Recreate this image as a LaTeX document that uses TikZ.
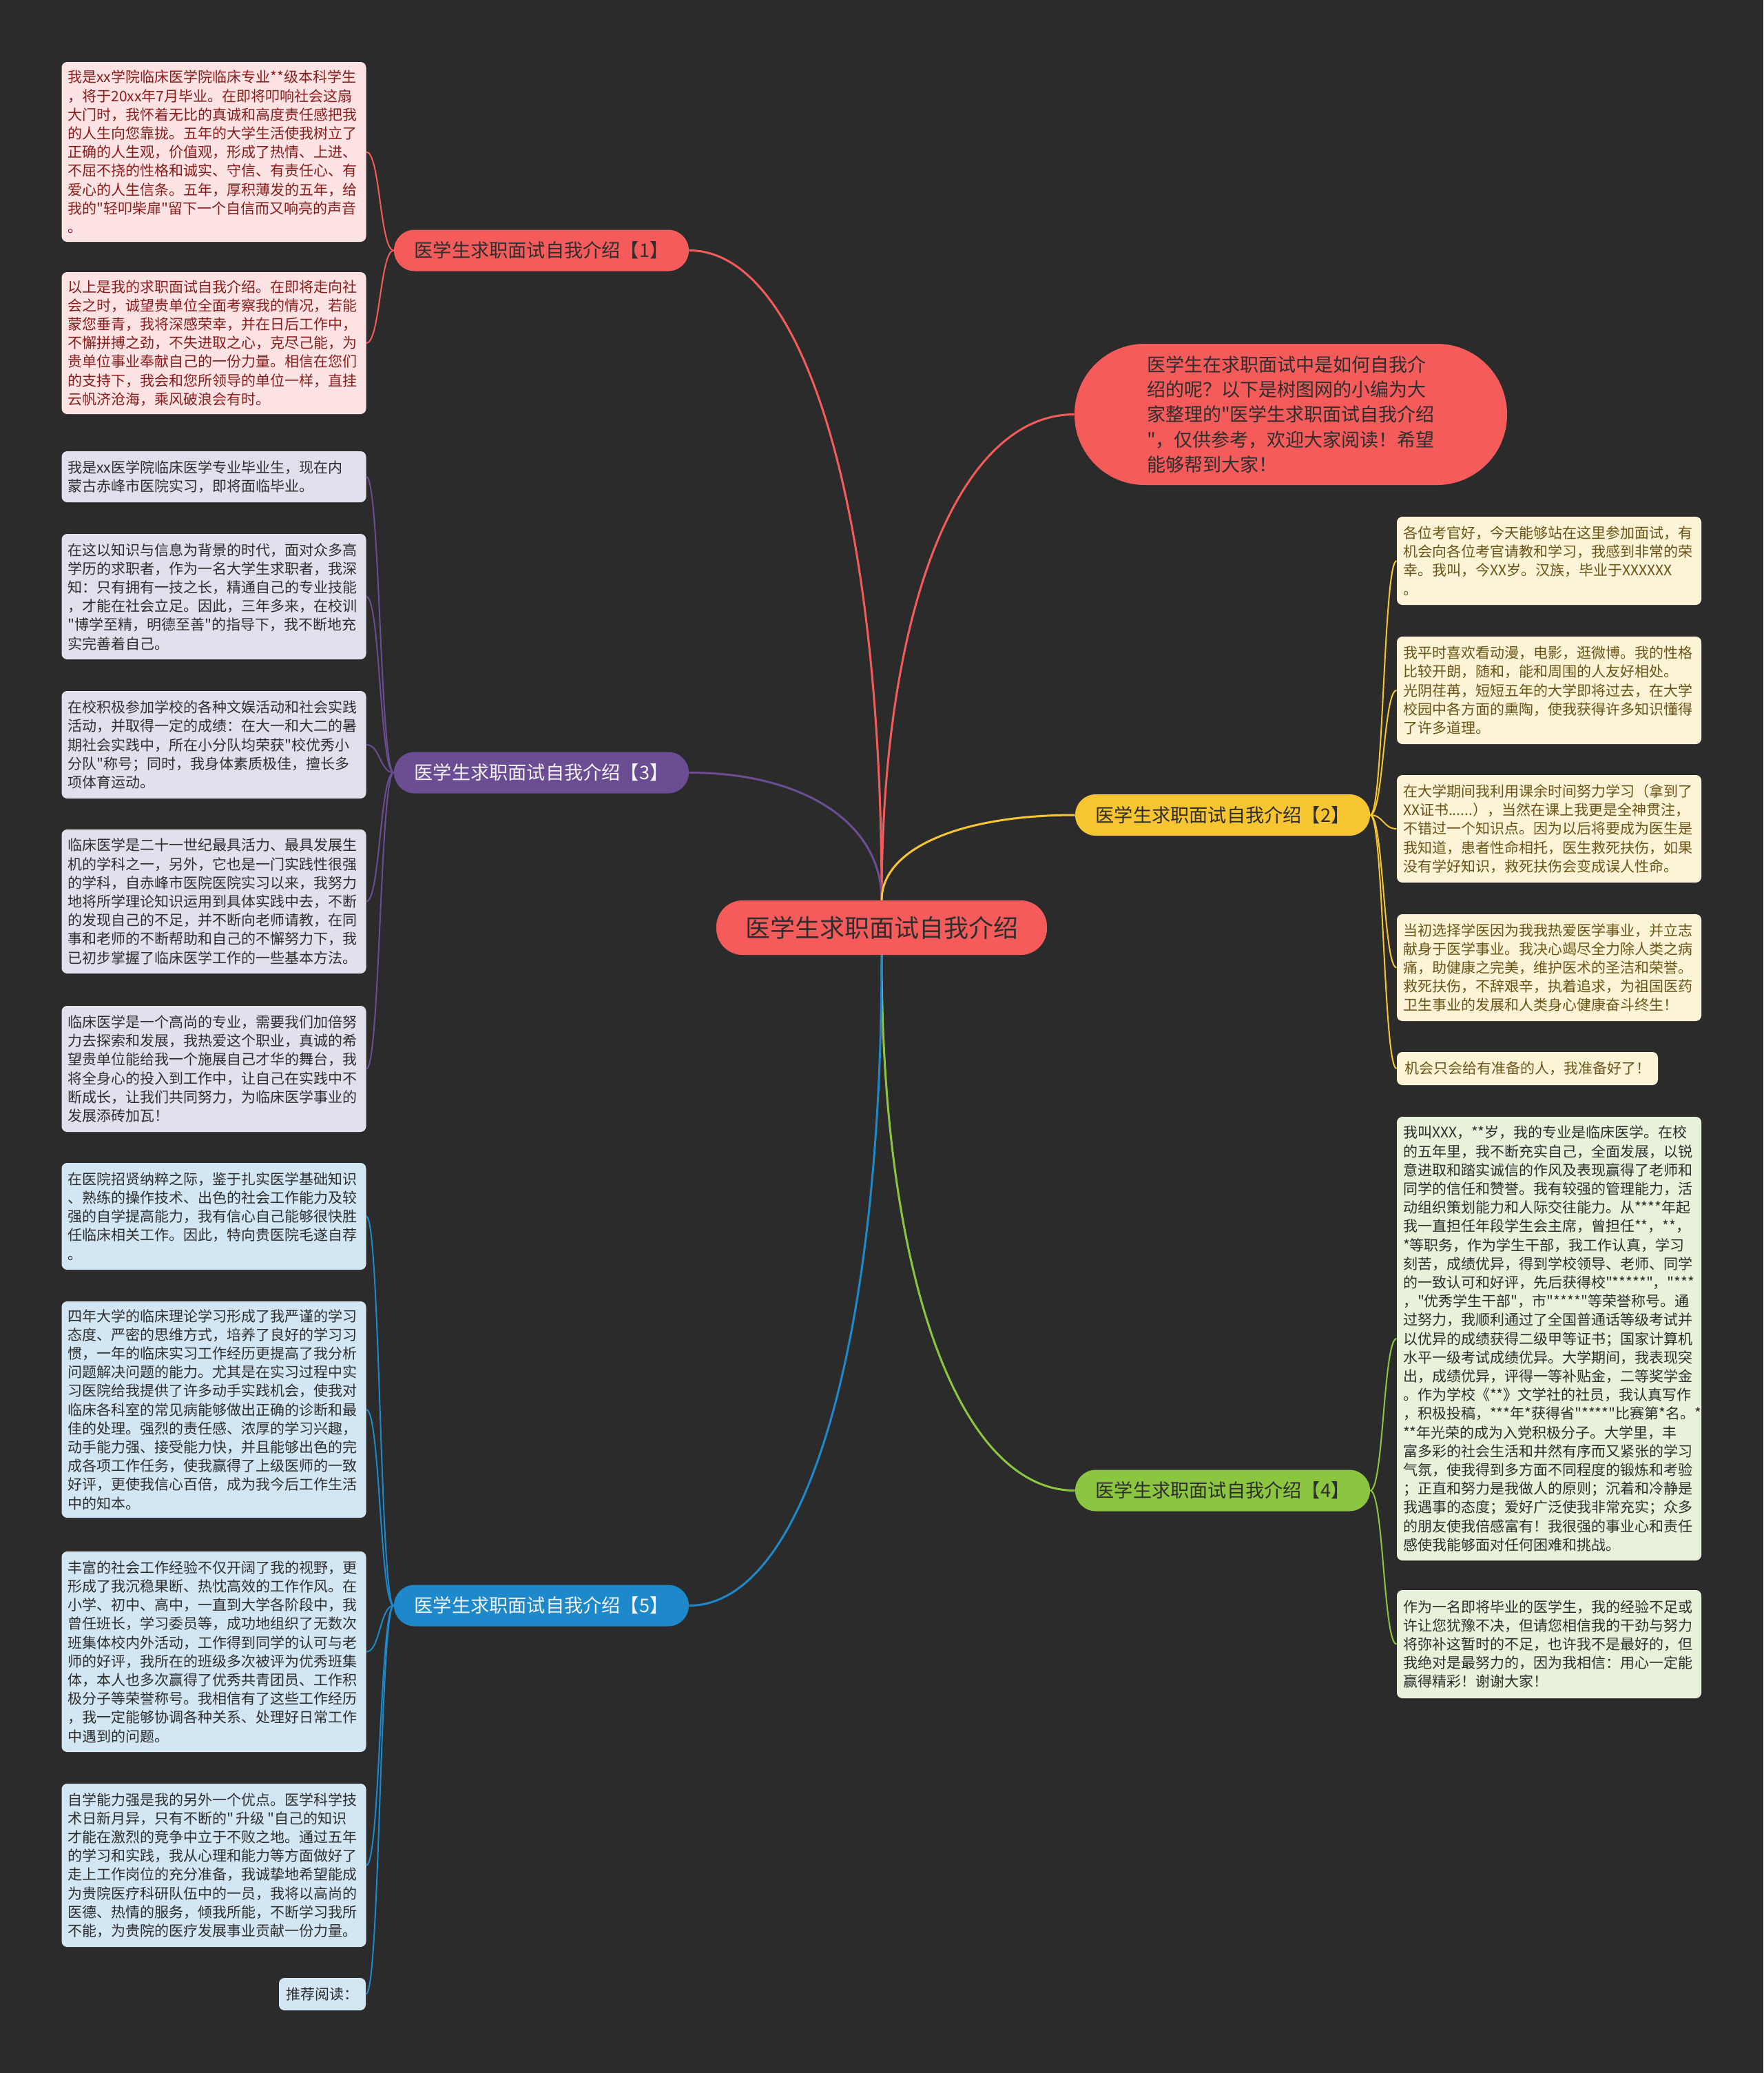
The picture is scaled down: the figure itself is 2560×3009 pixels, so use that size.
\documentclass[tikz,border=0pt]{standalone}
\usepackage{fontspec}
\newfontfamily\cjk{Noto Sans CJK SC}
\usetikzlibrary{calc}
\definecolor{bgc}{HTML}{2B2B2B}
\definecolor{cred}{HTML}{F55B5B}
\definecolor{cpur}{HTML}{6B4D93}
\definecolor{cblu}{HTML}{1D88CA}
\definecolor{cyel}{HTML}{F7C531}
\definecolor{cgrn}{HTML}{8CC540}
\definecolor{lred}{HTML}{FDE3E3}
\definecolor{lpur}{HTML}{E3E0ED}
\definecolor{lblu}{HTML}{D3E6F3}
\definecolor{lyel}{HTML}{FDF4D7}
\definecolor{lgrn}{HTML}{E8F2DA}
\definecolor{tred}{HTML}{8A1C1C}
\definecolor{tyel}{HTML}{6B5417}
\definecolor{tdark}{HTML}{2E2E2E}
\definecolor{tlight}{HTML}{F2F2F2}
\newcommand\leaffnt{\cjk\fontsize{10.5}{13.6}\selectfont}
\newcommand\branchfnt{\cjk\fontsize{13.6}{16}\selectfont}
\newcommand\mainlink[3]{\draw[#3, line width=1.5pt] (#1) .. controls ($(#1 |- #2)!0.4!(#1)$) and ($(#1 |- #2)!0.4!(#2)$) .. (#2);}
\newcommand\leaflink[3]{\draw[#3, line width=1pt] (#1) .. controls ($(#1)!0.5!(#2 |- #1)$) and ($(#2)!0.5!(#1 |- #2)$) .. (#2);}
\begin{document}
\begin{tikzpicture}[x=0.5pt,y=-0.5pt,
  leaf/.style={rounded corners=4pt, text width=212pt, inner xsep=4.5pt, inner ysep=3pt, align=left, font=\leaffnt},
  smallleaf/.style={rounded corners=4pt, inner sep=0pt, align=center, font=\leaffnt},
  redleaf/.style={leaf, fill=lred, text=tred},
  purleaf/.style={leaf, fill=lpur, text=tdark},
  bluleaf/.style={leaf, fill=lblu, text=tdark},
  yelleaf/.style={leaf, fill=lyel, text=tyel},
  grnleaf/.style={leaf, fill=lgrn, text=tdark},
  branchbox/.style={rounded corners=14.9pt, minimum width=214pt, minimum height=30pt, inner sep=0pt, font=\branchfnt}]
\fill[bgc] (0,0) rectangle (2560,3009);
\useasboundingbox (0,0) rectangle (2560,3009);

% central topic
\node[fill=cred, text=tdark, rounded corners=19pt, minimum width=240pt, minimum height=39.5pt, inner sep=0pt, font=\cjk\fontsize{18}{20}\selectfont] (C) at (1280,1346.5) {医学生求职面试自我介绍};

% intro bubble
\node[fill=cred, text=tdark, rounded corners=51pt, minimum width=314pt, minimum height=102.5pt, inner sep=0pt, align=left, font=\cjk\fontsize{13.5}{18.2}\selectfont] (Q) at (1874,601.5) {医学生在求职面试中是如何自我介\\绍的呢？以下是树图网的小编为大\\家整理的"医学生求职面试自我介绍\\"，仅供参考，欢迎大家阅读！希望\\能够帮到大家！};

% branches
\node[branchbox, fill=cred, text=tdark] (B1) at (786,363.5) {医学生求职面试自我介绍【1】};
\node[branchbox, fill=cpur, text=tlight] (B3) at (786,1121.5) {医学生求职面试自我介绍【3】};
\node[branchbox, fill=cblu, text=tlight] (B5) at (786,2330.5) {医学生求职面试自我介绍【5】};
\node[branchbox, fill=cyel, text=tdark] (B2) at (1775,1183) {医学生求职面试自我介绍【2】};
\node[branchbox, fill=cgrn, text=tdark] (B4) at (1775,2163.5) {医学生求职面试自我介绍【4】};

% branch 1 leaves
\node[redleaf, minimum height=130.5pt] (L1a) at (310.5,220.5) {我是xx学院临床医学院临床专业**级本科学生\\，将于20xx年7月毕业。在即将叩响社会这扇\\大门时，我怀着无比的真诚和高度责任感把我\\的人生向您靠拢。五年的大学生活使我树立了\\正确的人生观，价值观，形成了热情、上进、\\不屈不挠的性格和诚实、守信、有责任心、有\\爱心的人生信条。五年，厚积薄发的五年，给\\我的"轻叩柴扉"留下一个自信而又响亮的声音\\。};
\node[redleaf, minimum height=103pt] (L1b) at (310.5,498) {以上是我的求职面试自我介绍。在即将走向社\\会之时，诚望贵单位全面考察我的情况，若能\\蒙您垂青，我将深感荣幸，并在日后工作中，\\不懈拼搏之劲，不失进取之心，克尽己能，为\\贵单位事业奉献自己的一份力量。相信在您们\\的支持下，我会和您所领导的单位一样，直挂\\云帆济沧海，乘风破浪会有时。};

% branch 3 leaves
\node[purleaf, minimum height=37pt] (L3a) at (310.5,692) {我是xx医学院临床医学专业毕业生，现在内\\蒙古赤峰市医院实习，即将面临毕业。};
\node[purleaf, minimum height=91pt] (L3b) at (310.5,866) {在这以知识与信息为背景的时代，面对众多高\\学历的求职者，作为一名大学生求职者，我深\\知：只有拥有一技之长，精通自己的专业技能\\，才能在社会立足。因此，三年多来，在校训\\"博学至精，明德至善"的指导下，我不断地充\\实完善着自己。};
\node[purleaf, minimum height=78pt] (L3c) at (310.5,1081) {在校积极参加学校的各种文娱活动和社会实践\\活动，并取得一定的成绩：在大一和大二的暑\\期社会实践中，所在小分队均荣获"校优秀小\\分队"称号；同时，我身体素质极佳，擅长多\\项体育运动。};
\node[purleaf, minimum height=104.5pt] (L3d) at (310.5,1308.5) {临床医学是二十一世纪最具活力、最具发展生\\机的学科之一，另外，它也是一门实践性很强\\的学科，自赤峰市医院医院实习以来，我努力\\地将所学理论知识运用到具体实践中去，不断\\的发现自己的不足，并不断向老师请教，在同\\事和老师的不断帮助和自己的不懈努力下，我\\已初步掌握了临床医学工作的一些基本方法。};
\node[purleaf, minimum height=91.5pt] (L3e) at (310.5,1551.5) {临床医学是一个高尚的专业，需要我们加倍努\\力去探索和发展，我热爱这个职业，真诚的希\\望贵单位能给我一个施展自己才华的舞台，我\\将全身心的投入到工作中，让自己在实践中不\\断成长，让我们共同努力，为临床医学事业的\\发展添砖加瓦！};

% branch 5 leaves
\node[bluleaf, minimum height=77.5pt] (L5a) at (310.5,1765.5) {在医院招贤纳粹之际，鉴于扎实医学基础知识\\、熟练的操作技术、出色的社会工作能力及较\\强的自学提高能力，我有信心自己能够很快胜\\任临床相关工作。因此，特向贵医院毛遂自荐\\。};
\node[bluleaf, minimum height=157pt] (L5b) at (310.5,2046) {四年大学的临床理论学习形成了我严谨的学习\\态度、严密的思维方式，培养了良好的学习习\\惯，一年的临床实习工作经历更提高了我分析\\问题解决问题的能力。尤其是在实习过程中实\\习医院给我提供了许多动手实践机会，使我对\\临床各科室的常见病能够做出正确的诊断和最\\佳的处理。强烈的责任感、浓厚的学习兴趣，\\动手能力强、接受能力快，并且能够出色的完\\成各项工作任务，使我赢得了上级医师的一致\\好评，更使我信心百倍，成为我今后工作生活\\中的知本。};
\node[bluleaf, minimum height=145.5pt] (L5c) at (310.5,2397.5) {丰富的社会工作经验不仅开阔了我的视野，更\\形成了我沉稳果断、热忱高效的工作作风。在\\小学、初中、高中，一直到大学各阶段中，我\\曾任班长，学习委员等，成功地组织了无数次\\班集体校内外活动，工作得到同学的认可与老\\师的好评，我所在的班级多次被评为优秀班集\\体，本人也多次赢得了优秀共青团员、工作积\\极分子等荣誉称号。我相信有了这些工作经历\\，我一定能够协调各种关系、处理好日常工作\\中遇到的问题。};
\node[bluleaf, minimum height=118.5pt] (L5d) at (310.5,2707.5) {自学能力强是我的另外一个优点。医学科学技\\术日新月异，只有不断的"\,升级\,"自己的知识\\才能在激烈的竞争中立于不败之地。通过五年\\的学习和实践，我从心理和能力等方面做好了\\走上工作岗位的充分准备，我诚挚地希望能成\\为贵院医疗科研队伍中的一员，我将以高尚的\\医德、热情的服务，倾我所能，不断学习我所\\不能，为贵院的医疗发展事业贡献一份力量。};
\node[smallleaf, fill=lblu, text=tdark, minimum width=63pt, minimum height=23.5pt] (L5e) at (468,2894.5) {推荐阅读：};

% branch 2 leaves
\node[yelleaf, minimum height=64pt] (R2a) at (2249,814) {各位考官好，今天能够站在这里参加面试，有\\机会向各位考官请教和学习，我感到非常的荣\\幸。我叫，今XX岁。汉族，毕业于XXXXXX\\。};
\node[yelleaf, minimum height=78pt] (R2b) at (2249,1002) {我平时喜欢看动漫，电影，逛微博。我的性格\\比较开朗，随和，能和周围的人友好相处。\\光阴荏苒，短短五年的大学即将过去，在大学\\校园中各方面的熏陶，使我获得许多知识懂得\\了许多道理。};
\node[yelleaf, minimum height=78pt] (R2c) at (2249,1203) {在大学期间我利用课余时间努力学习（拿到了\\XX证书......），当然在课上我更是全神贯注，\\不错过一个知识点。因为以后将要成为医生是\\我知道，患者性命相托，医生救死扶伤，如果\\没有学好知识，救死扶伤会变成误人性命。};
\node[yelleaf, minimum height=77.5pt] (R2d) at (2249,1404.5) {当初选择学医因为我我热爱医学事业，并立志\\献身于医学事业。我决心竭尽全力除人类之病\\痛，助健康之完美，维护医术的圣洁和荣誉。\\救死扶伤，不辞艰辛，执着追求，为祖国医药\\卫生事业的发展和人类身心健康奋斗终生！};
\node[smallleaf, fill=lyel, text=tyel, minimum width=189.5pt, minimum height=24pt] (R2e) at (2217.5,1551) {机会只会给有准备的人，我准备好了！};

% branch 4 leaves
\node[grnleaf, minimum height=322pt] (R4a) at (2249,1943) {我叫XXX，**岁，我的专业是临床医学。在校\\的五年里，我不断充实自己，全面发展，以锐\\意进取和踏实诚信的作风及表现赢得了老师和\\同学的信任和赞誉。我有较强的管理能力，活\\动组织策划能力和人际交往能力。从****年起\\我一直担任年段学生会主席，曾担任**，**，\\**等职务，作为学生干部，我工作认真，学习\\刻苦，成绩优异，得到学校领导、老师、同学\\的一致认可和好评，先后获得校"*****"，"***\\，"优秀学生干部"，市"****"等荣誉称号。通\\过努力，我顺利通过了全国普通话等级考试并\\以优异的成绩获得二级甲等证书；国家计算机\\水平一级考试成绩优异。大学期间，我表现突\\出，成绩优异，评得一等补贴金，二等奖学金\\。作为学校《**》文学社的社员，我认真写作\\，积极投稿，***年*获得省"****"比赛第*名。*\\***年光荣的成为入党积极分子。大学里，丰\\富多彩的社会生活和井然有序而又紧张的学习\\气氛，使我得到多方面不同程度的锻炼和考验\\；正直和努力是我做人的原则；沉着和冷静是\\我遇事的态度；爱好广泛使我非常充实；众多\\的朋友使我倍感富有！我很强的事业心和责任\\感使我能够面对任何困难和挑战。};
\node[grnleaf, minimum height=78.5pt] (R4b) at (2249,2386.5) {作为一名即将毕业的医学生，我的经验不足或\\许让您犹豫不决，但请您相信我的干劲与努力\\将弥补这暂时的不足，也许我不是最好的，但\\我绝对是最努力的，因为我相信：用心一定能\\赢得精彩！谢谢大家！};

% main connectors
\mainlink{C.north}{B1.east}{cred}
\mainlink{C.north}{Q.west}{cred}
\mainlink{C.north}{B3.east}{cpur}
\mainlink{C.north}{B2.west}{cyel}
\mainlink{C.south}{B4.west}{cgrn}
\mainlink{C.south}{B5.east}{cblu}

% leaf connectors
\leaflink{B1.west}{L1a.east}{cred}
\leaflink{B1.west}{L1b.east}{cred}
\leaflink{B3.west}{L3a.east}{cpur}
\leaflink{B3.west}{L3b.east}{cpur}
\leaflink{B3.west}{L3c.east}{cpur}
\leaflink{B3.west}{L3d.east}{cpur}
\leaflink{B3.west}{L3e.east}{cpur}
\leaflink{B5.west}{L5a.east}{cblu}
\leaflink{B5.west}{L5b.east}{cblu}
\leaflink{B5.west}{L5c.east}{cblu}
\leaflink{B5.west}{L5d.east}{cblu}
\leaflink{B5.west}{L5e.east}{cblu}
\leaflink{B2.east}{R2a.west}{cyel}
\leaflink{B2.east}{R2b.west}{cyel}
\leaflink{B2.east}{R2c.west}{cyel}
\leaflink{B2.east}{R2d.west}{cyel}
\leaflink{B2.east}{R2e.west}{cyel}
\leaflink{B4.east}{R4a.west}{cgrn}
\leaflink{B4.east}{R4b.west}{cgrn}
\end{tikzpicture}
\end{document}
